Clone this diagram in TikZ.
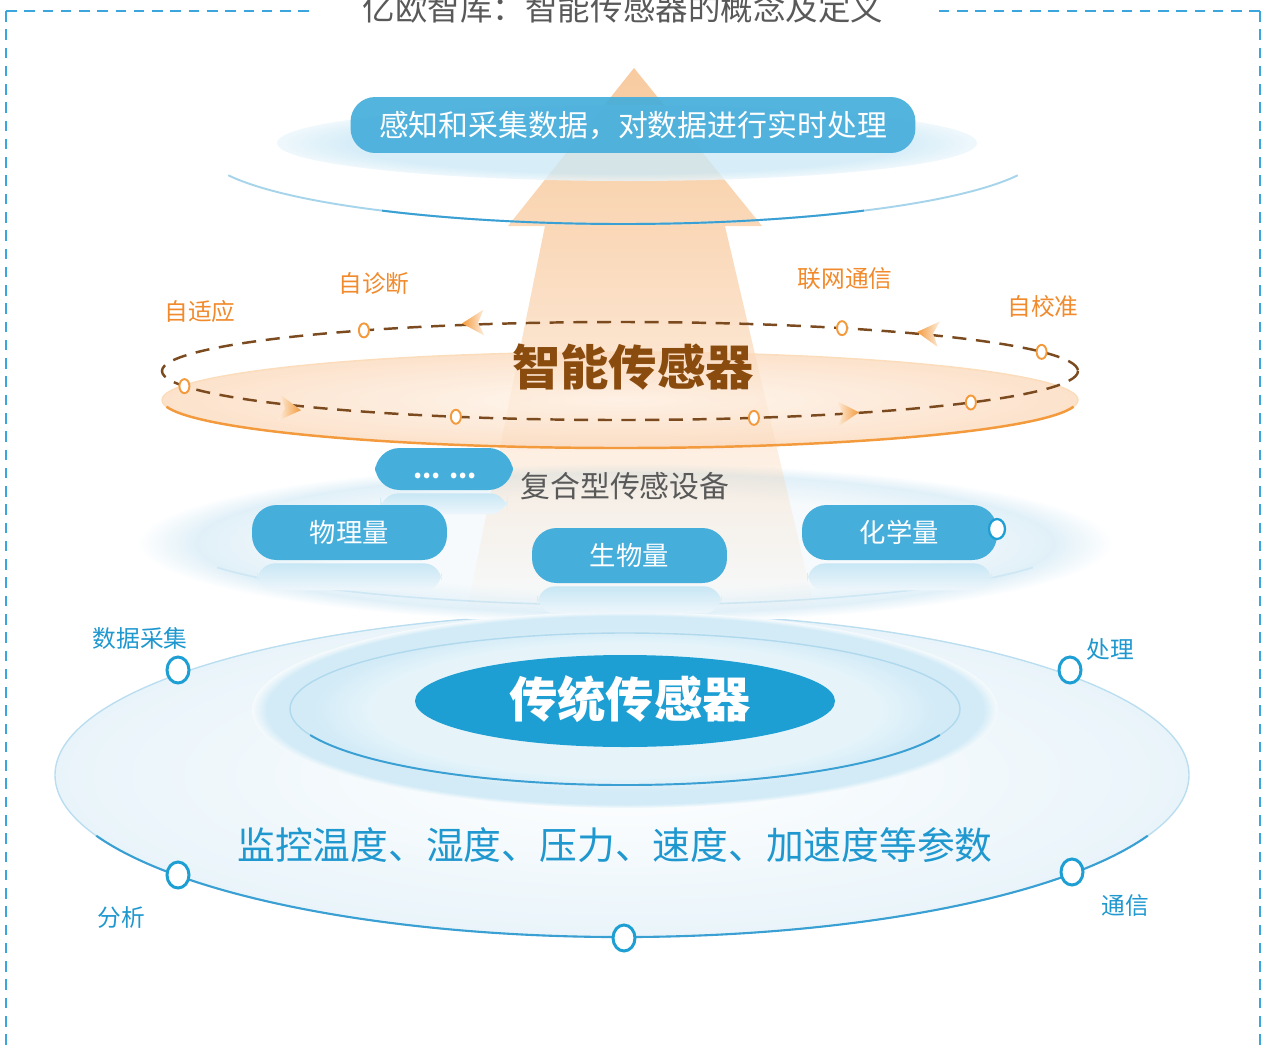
\documentclass[tikz,border=0pt]{standalone}
\usepackage{fontspec}
\setmainfont{Noto Sans CJK SC}
\usepackage{tikz}
\usetikzlibrary{calc,fadings}
\definecolor{frameblue}{HTML}{3AA6DD}
\definecolor{titlegrey}{HTML}{595959}
\definecolor{pillblue}{HTML}{46AEDB}
\definecolor{deepblue}{HTML}{1E9FD4}
\definecolor{textblue}{HTML}{1F97CF}
\definecolor{ringblue}{HTML}{3AA0D3}
\definecolor{discblue}{HTML}{E9F4FA}
\definecolor{mistblue}{HTML}{EEF6FB}
\definecolor{mistin}{HTML}{F6FAFC}
\definecolor{mistout}{HTML}{E1F0F8}
\definecolor{haloin}{HTML}{E6F4FA}
\definecolor{haloout}{HTML}{D2EBF7}
\definecolor{topmist}{HTML}{CDE9F6}
\definecolor{labelorange}{HTML}{F08A2C}
\definecolor{ringorange}{HTML}{F39A3C}
\definecolor{peachin}{HTML}{FFF4EA}
\definecolor{peachout}{HTML}{FBD8BA}
\definecolor{conepeach}{HTML}{F8CBA0}
\definecolor{dashbrown}{HTML}{7B4A1E}
\definecolor{smartbrown}{HTML}{8A4B0F}
\pgfdeclareradialshading{softdisc}{\pgfpoint{0bp}{0bp}}{color(0bp)=(mistin); color(15bp)=(mistin); color(22bp)=(mistout); color(25bp)=(white); color(50bp)=(white)}
\pgfdeclareradialshading{halodisc}{\pgfpoint{0bp}{0bp}}{color(0bp)=(haloin); color(17bp)=(haloin); color(21bp)=(haloout); color(24bp)=(haloout); color(25bp)=(mistin); color(50bp)=(mistin)}
\pgfdeclareradialshading{topdisc}{\pgfpoint{0bp}{0bp}}{color(0bp)=(topmist); color(20bp)=(topmist); color(25bp)=(white!60!topmist); color(50bp)=(white)}
\tikzfading[name=fadedown, top color=transparent!0, bottom color=transparent!100]
\tikzset{
  frame/.style={frameblue, line width=1.5pt, dash pattern=on 6pt off 4.4pt},
  pill/.style={fill=pillblue, rounded corners=14pt, text=white, minimum width=3.9cm,
    minimum height=1.1cm, inner sep=0pt, font=\fontsize{15}{15}\selectfont},
  mirror/.style={top color=pillblue!30, bottom color=mistblue, rounded corners=10pt},
  omark/.style={draw=ringorange, fill=white, line width=1.1pt},
  bmark/.style={draw=deepblue, fill=white, line width=1.7pt},
  olabel/.style={text=labelorange, font=\fontsize{13.5}{14}\selectfont},
  blabel/.style={text=textblue, font=\fontsize{13.5}{14}\selectfont},
}

\begin{document}
\begin{tikzpicture}[x=0.02cm, y=-0.02cm]
\useasboundingbox (0,0) rectangle (1271,1045);
% frame and title
\draw[frame] (6,11) -- (312,11);
\draw[frame] (6,11) -- (6,1045);
\draw[frame] (1260,11) -- (935,11);
\draw[frame] (1260,11) -- (1260,1045);
\node[font=\fontsize{18.5}{19}\selectfont, text=titlegrey] (title) at (623,8) {亿欧智库：智能传感器的概念及定义};

% lower disc: traditional sensors
\shade[inner color=white, outer color=discblue] (622,775) ellipse[x radius=567, y radius=162];
\draw[ringblue!35, line width=0.8pt] (622,775) ellipse[x radius=567, y radius=162];
\draw[ringblue, line width=1.2pt] (622,775) ++(22:567 and 162) arc[start angle=22, end angle=158, x radius=567, y radius=162];
\shade[shading=softdisc] (625,543) ellipse[x radius=488, y radius=80];
\draw[ringblue!25, line width=0.9pt] (625,540) ++(25:450 and 65) arc[start angle=25, end angle=155, x radius=450, y radius=65];
\shade[shading=halodisc] (625,710) ellipse[x radius=373, y radius=98];
\draw[ringblue!40, line width=0.8pt] (625,709) ellipse[x radius=335, y radius=76];
\draw[ringblue, line width=1.1pt] (625,709) ++(20:335 and 76) arc[start angle=20, end angle=160, x radius=335, y radius=76];
\fill[deepblue] (625,701) ellipse[x radius=210, y radius=46];
\node[text=white, font=\fontsize{27.5}{28}\bfseries\selectfont] (classic) at (630,699) {传统传感器};
\node[text=textblue, font=\fontsize{21.5}{22}\selectfont] (params) at (615,845) {监控温度、湿度、压力、速度、加速度等参数};
\foreach \p in {(178,670),(1070,670),(178,875),(1072,872),(624,938)}
  \draw[bmark] \p ellipse[x radius=11, y radius=13];
\node[blabel] (acquire) at (140,638) {数据采集};
\node[blabel] (process) at (1110,650) {处理};
\node[blabel] (analyse) at (121,918) {分析};
\node[blabel] (comms) at (1125,906) {通信};

% cone, lower part
\fill[conepeach!90!white, path fading=fadedown, opacity=0.85]
  (545,226) -- (725,226) -- (815,610) -- (467,610) -- cycle;

% smart sensor ring
\shade[inner color=peachin, outer color=peachout, opacity=0.75] (620,400) ellipse[x radius=458, y radius=48];
\draw[ringorange!35, line width=0.8pt] (620,400) ellipse[x radius=458, y radius=48];
\draw[ringorange, line width=1.4pt] (620,400) ++(8:458 and 48) arc[start angle=8, end angle=172, x radius=458, y radius=48];
\draw[dashbrown, line width=1.4pt, dash pattern=on 8pt off 5.5pt] (620,371) ellipse[x radius=458, y radius=49];
\foreach \a in {236,299,337,162,111,73,40}
  \draw[omark] (620,371) ++(\a:458 and 49) ellipse[x radius=5, y radius=7];
\shade[left color=ringorange, right color=ringorange!15] (462,323.4) -- (483.5,309.6) -- (478,322.8) -- (484.5,335.6) -- cycle;
\shade[left color=ringorange, right color=ringorange!15] (917,332) -- (940.2,321.2) -- (933,333.5) -- (937.7,347) -- cycle;
\shade[left color=ringorange!15, right color=ringorange] (301,410.2) -- (280.5,394.9) -- (285,408.4) -- (277.7,420.7) -- cycle;
\shade[left color=ringorange!15, right color=ringorange] (859,412.3) -- (836.2,400.7) -- (843,413.3) -- (837.8,426.7) -- cycle;
\node[text=smartbrown, font=\fontsize{27.5}{28}\bfseries\selectfont] (smart) at (633,367) {智能传感器};
\node[olabel] (adapt) at (200,311) {自适应};
\node[olabel] (diagnose) at (374,284) {自诊断};
\node[olabel] (network) at (845,279) {联网通信};
\node[olabel] (calibrate) at (1043,306) {自校准};

% composite devices
\node[pill, minimum width=2.76cm, minimum height=0.84cm] (dots) at (444,469) {};
\shade[mirror] ($(dots.south west)+(6,3)$) rectangle ($(dots.south east)+(-6,24)$);
\node[text=white, font=\fontsize{15}{15}\bfseries\selectfont] (dotstext) at (445,476) {... ...};
\node[pill] (physq) at (349.5,532.5) {物理量};
\shade[mirror] ($(physq.south west)+(6,3)$) rectangle ($(physq.south east)+(-6,30)$);
\node[pill] (bioq) at (629.5,555.5) {生物量};
\shade[mirror] ($(bioq.south west)+(6,3)$) rectangle ($(bioq.south east)+(-6,30)$);
\node[pill] (chemq) at (899.5,532.5) {化学量};
\shade[mirror] ($(chemq.south west)+(6,3)$) rectangle ($(chemq.south east)+(-6,30)$);
\draw[bmark, line width=1.3pt] (997,529) ellipse[x radius=8, y radius=10];
\node[text=titlegrey, font=\fontsize{17}{17}\selectfont] (composite) at (625,486) {复合型传感设备};

% cone tip and top disc
\shade[top color=conepeach, bottom color=conepeach!75!white] (634,68) -- (762,226) -- (508,226) -- cycle;
\shade[shading=topdisc, opacity=0.8] (627,143) ellipse[x radius=350, y radius=38];
\draw[ringblue!45, line width=1.1pt] (623,150) ++(20:420 and 74) arc[start angle=20, end angle=160, x radius=420, y radius=74];
\draw[ringblue, line width=1.1pt] (623,150) ++(55:420 and 74) arc[start angle=55, end angle=125, x radius=420, y radius=74];
\node[pill, minimum width=11.3cm, minimum height=1.12cm, fill opacity=0.93, text opacity=1,
  font=\fontsize{17}{17}\selectfont] (goal) at (633,125) {感知和采集数据，对数据进行实时处理};
\end{tikzpicture}
\end{document}
